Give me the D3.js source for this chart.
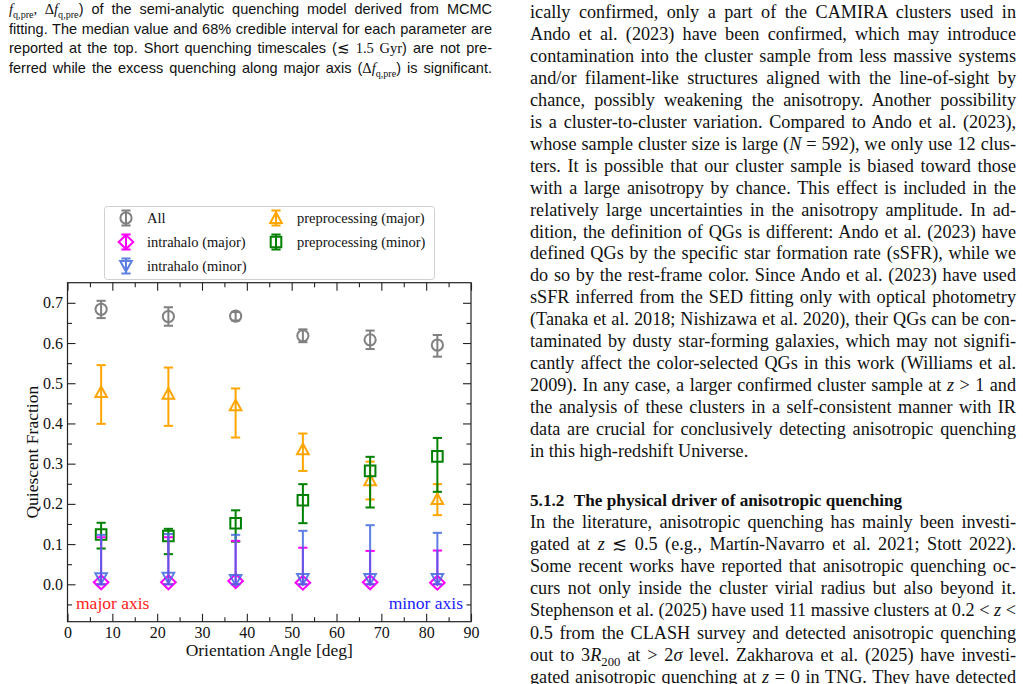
<!DOCTYPE html>
<html>
<head>
<meta charset="utf-8">
<script src="https://cdn.jsdelivr.net/npm/d3@7"></script>
<style>
  body { margin: 0; background: #fff; }
  svg { display: block; }
</style>
</head>
<body>
<svg id="page" width="1023" height="684"></svg>
<script>
// ---- values ----
const angles = [7.5, 22.5, 37.5, 52.5, 67.5, 82.5];

const allVal = [0.684, 0.666, 0.667, 0.618, 0.608, 0.595];
const allLo  = [0.662, 0.643, 0.656, 0.602, 0.585, 0.566];
const allHi  = [0.705, 0.689, 0.677, 0.634, 0.631, 0.620];

const preMajVal = [0.478, 0.474, 0.445, 0.336, 0.259, 0.212];
const preMajLo  = [0.399, 0.394, 0.365, 0.282, 0.211, 0.172];
const preMajHi  = [0.545, 0.539, 0.487, 0.375, 0.305, 0.249];

const preMinVal = [0.124, 0.120, 0.152, 0.209, 0.282, 0.318];
const preMinLo  = [0.089, 0.075, 0.106, 0.152, 0.191, 0.230];
const preMinHi  = [0.153, 0.138, 0.184, 0.249, 0.317, 0.364];

const inMajVal = [0.005, 0.005, 0.008, 0.004, 0.005, 0.004];
const inMajLo  = [0.0, 0.0, 0.0, 0.0, 0.0, 0.0];
const inMajHi  = [0.117, 0.117, 0.108, 0.091, 0.083, 0.084];

const inMinVal = [0.015, 0.016, 0.011, 0.013, 0.013, 0.013];
const inMinLo  = [0.0, 0.0, 0.0, 0.0, 0.0, 0.0];
const inMinHi  = [0.123, 0.125, 0.123, 0.133, 0.147, 0.128];

const xMajorTicks = [0, 10, 20, 30, 40, 50, 60, 70, 80, 90];
const xMinorTicks = [5, 15, 25, 35, 45, 55, 65, 75, 85];
const yMajorTicks = [0.0, 0.1, 0.2, 0.3, 0.4, 0.5, 0.6, 0.7];
const yMinorTicks = [-0.05, 0.05, 0.15, 0.25, 0.35, 0.45, 0.55, 0.65];

const svg = d3.select('#page');
const serif = "'Liberation Serif', 'Times New Roman', serif";
const sans = "'Liberation Sans', Arial, sans-serif";

// ---- text helper: segments [text, kind] ; kind '' normal, 'i' italic math, 'r' roman math, 's' subscript
function addLine(parent, x, y, segs, opt) {
    const t = parent.append('text')
        .attr('x', x).attr('y', y)
        .attr('font-family', opt.font)
        .attr('font-size', opt.size)
        .attr('font-weight', opt.bold ? 'bold' : null)
        .attr('fill', '#111');
    if (typeof segs === 'string') segs = [[segs, '']];
    let shifted = false;
    const shift = opt.size * 0.28;
    segs.forEach(([s, kind]) => {
        const ts = t.append('tspan').text(s);
        if (kind === 'i') ts.attr('font-family', serif).attr('font-style', 'italic');
        if (kind === 'r') ts.attr('font-family', serif);
        if (kind === 'gap') ts.attr('dx', opt.size * 0.55);
        if (kind === 's') {
            ts.attr('font-family', serif).attr('font-size', opt.size * 0.7);
            if (!shifted) { ts.attr('dy', shift); shifted = true; }
        } else if (shifted) {
            ts.attr('dy', -shift); shifted = false;
        }
    });
    // justify by widening the word gaps, like TeX does
    if (opt.width) {
        const natural = t.node().getComputedTextLength();
        const gaps = (t.text().match(/ /g) || []).length;
        if (gaps) t.attr('word-spacing', (opt.width - natural) / gaps);
    }
    return t;
}

// ---- caption (top left) ----
const caption = [
    [['f', 'i'], ['q,pre', 's'], [', Δ', 'r'], ['f', 'i'], ['q,pre', 's'], [') of the semi-analytic quenching model derived from MCMC', '']],
    [['fitting. The median value and 68% credible interval for each parameter are', '']],
    [['reported at the top. Short quenching timescales (', ''], ['≲ 1.5 Gyr', 'r'], [') are not pre-', '']],
    [['ferred while the excess quenching along major axis (', ''], ['Δ', 'r'], ['f', 'i'], ['q,pre', 's'], [') is significant.', '']]
];
const capG = svg.append('g');
caption.forEach((segs, i) => {
    addLine(capG, 9, 14 + i * 19.5, segs, { font: sans, size: 14.5, width: 483 });
});

// ---- right column text ----
const para1 = [
    'ically confirmed, only a part of the CAMIRA clusters used in',
    'Ando et al. (2023) have been confirmed, which may introduce',
    'contamination into the cluster sample from less massive systems',
    'and/or filament-like structures aligned with the line-of-sight by',
    'chance, possibly weakening the anisotropy. Another possibility',
    'is a cluster-to-cluster variation. Compared to Ando et al. (2023),',
    [['whose sample cluster size is large (', ''], ['N', 'i'], [' = 592), we only use 12 clus-', '']],
    'ters. It is possible that our cluster sample is biased toward those',
    'with a large anisotropy by chance. This effect is included in the',
    'relatively large uncertainties in the anisotropy amplitude. In ad-',
    'dition, the definition of QGs is different: Ando et al. (2023) have',
    'defined QGs by the specific star formation rate (sSFR), while we',
    'do so by the rest-frame color. Since Ando et al. (2023) have used',
    'sSFR inferred from the SED fitting only with optical photometry',
    '(Tanaka et al. 2018; Nishizawa et al. 2020), their QGs can be con-',
    'taminated by dusty star-forming galaxies, which may not signifi-',
    'cantly affect the color-selected QGs in this work (Williams et al.',
    [['2009). In any case, a larger confirmed cluster sample at ', ''], ['z', 'i'], [' > 1 and', '']],
    'the analysis of these clusters in a self-consistent manner with IR',
    'data are crucial for conclusively detecting anisotropic quenching',
    'in this high-redshift Universe.'
];
const heading = [['5.1.2', ''], ['The physical driver of anisotropic quenching', 'gap']];
const para2 = [
    'In the literature, anisotropic quenching has mainly been investi-',
    [['gated at ', ''], ['z', 'i'], [' ≲ 0.5 (e.g., Martín-Navarro et al. 2021; Stott 2022).', '']],
    'Some recent works have reported that anisotropic quenching oc-',
    'curs not only inside the cluster virial radius but also beyond it.',
    [['Stephenson et al. (2025) have used 11 massive clusters at 0.2 < ', ''], ['z', 'i'], [' <', '']],
    '0.5 from the CLASH survey and detected anisotropic quenching',
    [['out to 3', ''], ['R', 'i'], ['200', 's'], [' at > 2', ''], ['σ', 'i'], [' level. Zakharova et al. (2025) have investi-', '']],
    [['gated anisotropic quenching at ', ''], ['z', 'i'], [' = 0 in TNG. They have detected', '']]
];
const colG = svg.append('g');
const colX = 530, colW = 486, colSize = 18.2;
para1.forEach((segs, i) => {
    const last = i === para1.length - 1;
    addLine(colG, colX, 18 + i * 21.95, segs, { font: serif, size: colSize, width: last ? null : colW });
});
addLine(colG, colX, 505.5, heading, { font: serif, size: 17.2, bold: true });
para2.forEach((segs, i) => {
    addLine(colG, colX, 527.5 + i * 22.2, segs, { font: serif, size: colSize, width: colW });
});

// ---- chart ----
const x = d3.scaleLinear().domain([0, 90]).range([67.5, 471]);
const y = d3.scaleLinear().domain([-0.093, 0.75]).range([621.7, 282.7]);
const [plotLeft, plotRight] = x.range();
const [plotBottom, plotTop] = y.range();

const chart = svg.append('g');

function tickAxis(axis, tf, cls, ticks, size, fmt) {
    const g = chart.append('g').attr('transform', tf)
        .call(axis.tickValues(ticks).tickSize(-size).tickPadding(fmt ? (cls === 'l' ? 4.5 : 5) : 0)
            .tickFormat(fmt || (() => '')));
    g.select('.domain').remove();
    g.selectAll('line').attr('stroke', '#222').attr('stroke-width', 1.1);
    g.selectAll('text').attr('font-family', serif).attr('font-size', 16).attr('fill', '#111');
    return g;
}
tickAxis(d3.axisBottom(x), `translate(0,${plotBottom})`, 'b', xMajorTicks, 8, d3.format('d'));
tickAxis(d3.axisBottom(x), `translate(0,${plotBottom})`, 'b', xMinorTicks, 4.5);
tickAxis(d3.axisTop(x), `translate(0,${plotTop})`, 't', xMajorTicks, 8);
tickAxis(d3.axisTop(x), `translate(0,${plotTop})`, 't', xMinorTicks, 4.5);
tickAxis(d3.axisLeft(y), `translate(${plotLeft},0)`, 'l', yMajorTicks, 8, d3.format('.1f'));
tickAxis(d3.axisLeft(y), `translate(${plotLeft},0)`, 'l', yMinorTicks, 4.5);
tickAxis(d3.axisRight(y), `translate(${plotRight},0)`, 'r', yMajorTicks, 8);
tickAxis(d3.axisRight(y), `translate(${plotRight},0)`, 'r', yMinorTicks, 4.5);

chart.append('rect')
    .attr('x', plotLeft).attr('y', plotTop)
    .attr('width', plotRight - plotLeft).attr('height', plotBottom - plotTop)
    .attr('fill', 'none').attr('stroke', '#222').attr('stroke-width', 1.2);

chart.append('text')
    .attr('x', (plotLeft + plotRight) / 2).attr('y', 656)
    .attr('text-anchor', 'middle')
    .attr('font-family', serif).attr('font-size', 17.5).attr('fill', '#111')
    .text('Orientation Angle [deg]');
chart.append('text')
    .attr('transform', `translate(38,${(plotTop + plotBottom) / 2}) rotate(-90)`)
    .attr('text-anchor', 'middle')
    .attr('font-family', serif).attr('font-size', 17.5).attr('fill', '#111')
    .text('Quiescent Fraction');

chart.append('text')
    .attr('x', 76).attr('y', 609)
    .attr('font-family', serif).attr('font-size', 17.5).attr('fill', '#ff1a1a')
    .text('major axis');
chart.append('text')
    .attr('x', 463).attr('y', 609).attr('text-anchor', 'end')
    .attr('font-family', serif).attr('font-size', 17.5).attr('fill', '#1a1aff')
    .text('minor axis');

// marker shapes
const markerPaths = {
    circle: 'M5.6,0A5.6,5.6 0 1,1 -5.6,0A5.6,5.6 0 1,1 5.6,0Z',
    triUp: 'M0,-5.6L5.8,5L-5.8,5Z',
    triDown: 'M0,5.6L5.8,-5L-5.8,-5Z',
    square: 'M-5.3,-5.3H5.3V5.3H-5.3Z',
    diamond: 'M0,-7L7.3,0L0,7L-7.3,0Z'
};

const series = [
    { name: 'All', val: allVal, lo: allLo, hi: allHi, color: '#808080', marker: 'circle', opacity: 1 },
    { name: 'preprocessing (major)', val: preMajVal, lo: preMajLo, hi: preMajHi, color: '#ffa500', marker: 'triUp', opacity: 1 },
    { name: 'preprocessing (minor)', val: preMinVal, lo: preMinLo, hi: preMinHi, color: '#008000', marker: 'square', opacity: 1 },
    { name: 'intrahalo (major)', val: inMajVal, lo: inMajLo, hi: inMajHi, color: '#ff00ff', marker: 'diamond', opacity: 1 },
    { name: 'intrahalo (minor)', val: inMinVal, lo: inMinLo, hi: inMinHi, color: '#4169e1', marker: 'triDown', opacity: 0.85 }
];

const capW = 4.6;
series.forEach(s => {
    const pts = angles.map((a, i) => ({ a, v: s.val[i], lo: s.lo[i], hi: s.hi[i] }));
    const g = chart.append('g').attr('opacity', s.opacity);
    const eb = g.selectAll('g.eb').data(pts).join('g').attr('class', 'eb')
        .attr('stroke', s.color).attr('stroke-width', 2).attr('fill', 'none');
    eb.append('line')
        .attr('x1', d => x(d.a)).attr('x2', d => x(d.a))
        .attr('y1', d => y(d.lo)).attr('y2', d => y(d.hi));
    eb.append('line')
        .attr('x1', d => x(d.a) - capW).attr('x2', d => x(d.a) + capW)
        .attr('y1', d => y(d.hi)).attr('y2', d => y(d.hi));
    eb.append('line')
        .attr('x1', d => x(d.a) - capW).attr('x2', d => x(d.a) + capW)
        .attr('y1', d => y(d.lo)).attr('y2', d => y(d.lo));
    eb.append('path')
        .attr('d', markerPaths[s.marker])
        .attr('transform', d => `translate(${x(d.a)},${y(d.v)})`)
        .attr('stroke-linejoin', 'miter');
});

// ---- legend ----
const legendPos = {
    'All': [126, 218],
    'intrahalo (major)': [126, 242],
    'intrahalo (minor)': [126, 266],
    'preprocessing (major)': [276, 218],
    'preprocessing (minor)': [276, 242]
};
const leg = svg.append('g');
leg.append('rect')
    .attr('x', 104.5).attr('y', 206.5).attr('width', 330).attr('height', 73).attr('rx', 3)
    .attr('fill', '#fff').attr('fill-opacity', 0.85)
    .attr('stroke', '#d0d0d0').attr('stroke-width', 1);
series.forEach(s => {
    const [lx, ly] = legendPos[s.name];
    const g = leg.append('g').attr('transform', `translate(${lx},${ly})`)
        .attr('stroke', s.color).attr('stroke-width', 2).attr('fill', 'none').attr('opacity', s.opacity);
    g.append('line').attr('x1', 0).attr('x2', 0).attr('y1', -7.5).attr('y2', 7.5);
    g.append('line').attr('x1', -capW).attr('x2', capW).attr('y1', -7.5).attr('y2', -7.5);
    g.append('line').attr('x1', -capW).attr('x2', capW).attr('y1', 7.5).attr('y2', 7.5);
    g.append('path').attr('d', markerPaths[s.marker]);
    leg.append('text')
        .attr('x', lx + 21).attr('y', ly + 5)
        .attr('font-family', serif).attr('font-size', 14.5).attr('fill', '#111')
        .text(s.name);
});
</script>
</body>
</html>
